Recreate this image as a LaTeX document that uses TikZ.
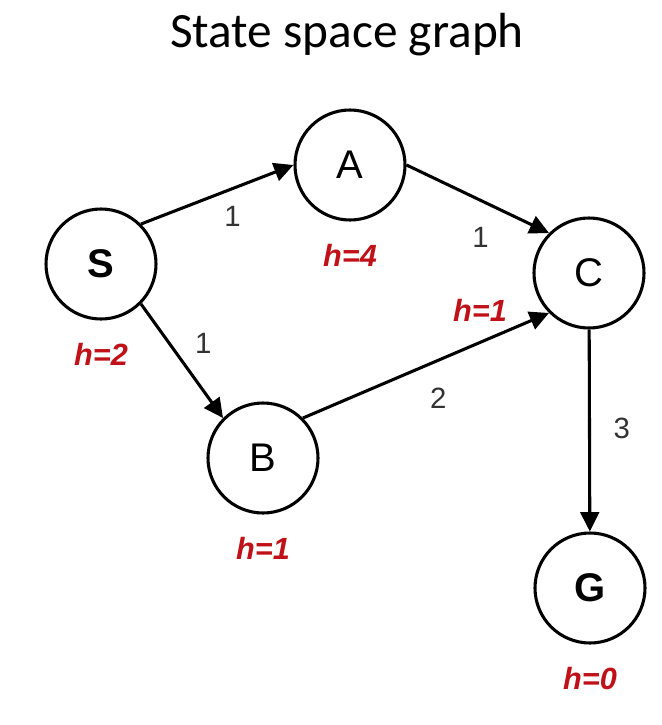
\documentclass[tikz,border=0pt]{standalone}
\usepackage{fontspec}
\setmainfont{Liberation Sans}
\newfontfamily\titlefont{Carlito}
\usetikzlibrary{arrows.meta,positioning}
\definecolor{hred}{RGB}{192,16,24}
\tikzset{
  state/.style={circle, draw=black, line width=2.3pt, minimum size=82.5pt, inner sep=0pt, font=\fontsize{30}{30}\selectfont},
  goal/.style={state, font=\fontsize{30}{30}\selectfont\bfseries},
  heur/.style={text=hred, inner sep=0pt, font=\fontsize{23}{23}\selectfont\bfseries\itshape},
  cost/.style={text=black!80, inner sep=0pt, font=\fontsize{22}{22}\selectfont},
  edge/.style={-{Triangle[length=14.5pt, width=14pt]}, line width=2.3pt, draw=black}
}
\begin{document}
\begin{tikzpicture}[x=0.75pt, y=-0.75pt, node distance=17pt]
  \useasboundingbox (0,0) rectangle (661,725);
  \node[font=\titlefont\fontsize{37}{37}\selectfont] (title) at (347,35) {State space graph};

  \node[goal] (S) at (101,264) {S};
  \node[state] (A) at (350,165) {A};
  \node[state] (C) at (589,273) {C};
  \node[state] (B) at (263,458) {B};
  \node[goal] (G) at (590,588) {G};

  \node[heur, below=of S] (hS) {h=2};
  \node[heur, below=of A] (hA) {h=4};
  \node[heur] (hC) at (480,310) {h=1};
  \node[heur, below=of B] (hB) {h=1};
  \node[heur, below=of G] (hG) {h=0};

  \draw[edge] (S.45) -- node[cost, pos=0.6, below=12pt] {1} (A.180);
  \draw[edge] (A.0) -- node[cost, pos=0.52, below=19pt] {1} (C.135);
  \draw[edge] (S.-45) -- node[cost, pos=0.35, right=18pt] {1} (B.135);
  \draw[edge] (B.45) -- node[cost, pos=0.55, below=19.5pt] {2} (C.-135);
  \draw[edge] (C) -- node[cost, pos=0.49, right=17pt] {3} (G);
\end{tikzpicture}
\end{document}
